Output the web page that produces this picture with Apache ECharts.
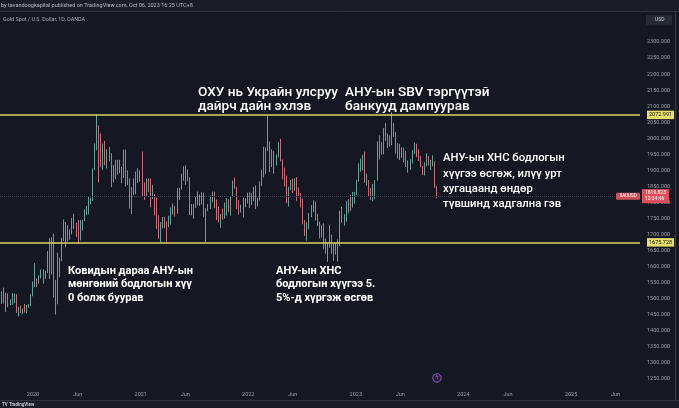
<!DOCTYPE html>
<html><head><meta charset="utf-8">
<script src="https://cdn.jsdelivr.net/npm/echarts@6/dist/echarts.min.js"></script>
<style>html,body{margin:0;padding:0;background:#151822;}#c{width:679px;height:408px;}</style>
</head><body><div id="c"></div>
<script>
// Weekly candles of Gold Spot / USD, [open, close, low, high], weeks starting Mon 16 Sep 2019
const w2019 = [
[1488,1517,1484,1523],[1517,1497,1485,1535],[1497,1505,1459,1519],[1505,1489,1474,1517],
[1489,1490,1480,1498],[1490,1505,1481,1518],[1505,1510,1486,1516],[1510,1459,1456,1514],
[1459,1468,1445,1475],[1468,1462,1456,1478],[1462,1464,1452,1470],[1464,1460,1457,1484],
[1460,1476,1455,1481],[1476,1478,1472,1484],[1478,1511,1477,1514],[1511,1552,1508,1554]];
const w2020 = [
[1552,1562,1536,1611],[1562,1557,1536,1563],[1557,1571,1547,1574],[1571,1589,1563,1591],
[1589,1570,1547,1592],[1570,1584,1562,1586],[1584,1643,1580,1649],[1643,1585,1562,1689],
[1585,1674,1576,1692],[1674,1530,1504,1703],[1530,1499,1451,1559],[1499,1618,1483,1644],
[1618,1620,1567,1628],[1620,1683,1617,1690],[1683,1683,1680,1747],[1683,1726,1660,1739],
[1726,1701,1679,1729],[1701,1702,1684,1716],[1702,1743,1701,1751],[1743,1735,1717,1765],
[1735,1730,1693,1737],[1730,1684,1670,1745],[1684,1731,1682,1745],[1731,1744,1712,1746],
[1744,1771,1742,1779],[1771,1775,1760,1789],[1775,1798,1763,1818],[1798,1810,1795,1815],
[1810,1902,1805,1906],[1902,1975,1901,1984],[1975,2035,1963,2075],[2035,1944,1863,2040],
[1944,1940,1910,2015],[1940,1964,1902,1984],[1964,1934,1916,1992],[1934,1940,1906,1966],
[1940,1950,1928,1973],[1950,1862,1848,1954],[1862,1900,1862,1917],[1900,1930,1873,1933],
[1930,1899,1887,1933],[1899,1902,1891,1933],[1902,1879,1860,1911],[1879,1951,1877,1965],
[1951,1889,1850,1965],[1889,1871,1854,1900],[1871,1788,1781,1875],[1788,1839,1764,1848],
[1839,1839,1823,1875],[1839,1881,1826,1896],[1881,1883,1861,1907],[1883,1898,1865,1900]];
const w2021 = [
[1898,1849,1817,1959],[1849,1828,1808,1863],[1828,1856,1820,1875],[1856,1847,1832,1875],
[1847,1813,1785,1875],[1813,1823,1811,1855],[1823,1784,1760,1826],[1784,1734,1717,1815],
[1734,1700,1687,1760],[1700,1727,1676,1739],[1727,1745,1719,1755],[1745,1733,1720,1755],
[1733,1728,1678,1741],[1728,1744,1723,1759],[1744,1777,1731,1785],[1777,1777,1763,1797],
[1777,1769,1756,1790],[1769,1831,1765,1845],[1831,1843,1808,1846],[1843,1881,1840,1890],
[1881,1905,1868,1913],[1905,1892,1855,1916],[1892,1877,1866,1903],[1877,1764,1761,1878],
[1764,1781,1760,1795],[1781,1784,1750,1795],[1784,1808,1783,1818],[1808,1812,1791,1834],
[1812,1802,1789,1825],[1802,1814,1794,1832],[1814,1763,1755,1831],[1763,1780,1677,1782],
[1780,1781,1773,1795],[1781,1818,1780,1822],[1818,1827,1801,1834],[1827,1788,1782,1834],
[1788,1754,1745,1809],[1754,1750,1738,1787],[1750,1761,1721,1764],[1761,1757,1746,1781],
[1757,1768,1750,1800],[1768,1793,1759,1814],[1793,1783,1770,1810],[1783,1818,1759,1818],
[1818,1864,1816,1868],[1864,1846,1843,1877],[1846,1792,1779,1849],[1792,1783,1762,1808],
[1783,1783,1769,1793],[1783,1798,1753,1815],[1798,1811,1785,1813],[1811,1829,1797,1831]];
const w2022 = [
[1829,1797,1783,1832],[1797,1817,1792,1830],[1817,1836,1804,1848],[1836,1791,1780,1853],
[1791,1808,1788,1815],[1808,1859,1806,1865],[1859,1898,1851,1902],[1898,1889,1878,1974],
[1889,1970,1888,1972],[1970,1988,1960,2070],[1988,1921,1895,1990],[1921,1958,1910,1966],
[1958,1925,1890,1960],[1925,1946,1915,1950],[1946,1975,1941,1988],[1975,1931,1928,1998],
[1931,1896,1872,1934],[1896,1883,1850,1909],[1883,1811,1798,1884],[1811,1846,1787,1849],
[1846,1853,1839,1870],[1853,1851,1829,1874],[1851,1871,1836,1876],[1871,1840,1805,1879],
[1840,1827,1816,1847],[1827,1811,1785,1830],[1811,1742,1732,1812],[1742,1703,1696,1745],
[1703,1727,1681,1739],[1727,1766,1717,1767],[1766,1775,1754,1792],[1775,1802,1770,1807],
[1802,1747,1744,1802],[1747,1737,1727,1765],[1737,1712,1688,1740],[1712,1716,1691,1729],
[1716,1675,1654,1735],[1675,1644,1640,1688],[1644,1660,1615,1675],[1660,1695,1659,1729],
[1695,1644,1640,1700],[1644,1657,1618,1672],[1657,1645,1638,1675],[1645,1681,1616,1685],
[1681,1771,1663,1774],[1771,1751,1737,1786],[1751,1755,1728,1764],[1755,1797,1740,1804],
[1797,1797,1766,1810],[1797,1793,1773,1824],[1793,1798,1784,1833],[1798,1824,1796,1833]];
const w2023 = [
[1824,1866,1823,1870],[1866,1920,1865,1922],[1920,1926,1896,1937],[1926,1928,1900,1949],
[1928,1865,1861,1959],[1865,1865,1853,1890],[1865,1842,1819,1870],[1842,1811,1808,1845],
[1811,1856,1804,1858],[1856,1868,1810,1870],[1868,1989,1868,1990],[1989,1978,1934,2009],
[1978,1969,1949,1988],[1969,2008,1950,2032],[2008,2004,1992,2048],[2004,1983,1970,2015],
[1983,1990,1974,2009],[1990,2017,1978,2081],[2017,2011,2004,2048],[2011,1978,1952,2020],
[1978,1946,1937,1985],[1946,1948,1932,1983],[1948,1961,1939,1972],[1961,1957,1925,1971],
[1957,1920,1910,1960],[1920,1919,1893,1931],[1919,1925,1902,1935],[1925,1955,1922,1963],
[1955,1962,1952,1987],[1962,1959,1942,1983],[1959,1942,1929,1966],[1942,1914,1910,1945],
[1914,1889,1885,1914],[1889,1915,1884,1925],[1915,1940,1913,1953],[1940,1919,1915,1945],
[1919,1924,1901,1933],[1924,1925,1913,1947],[1925,1849,1846,1928],[1849,1820,1813,1852]];

const levelLines = [2072.991, 1675.728];
const lastPrice = 1819.823;
const xTickDates = ['2020-01-01','2020-06-01','2021-01-01','2021-06-01','2022-01-01','2022-06-01',
  '2023-01-01','2023-06-01','2024-01-01','2024-06-01','2025-01-01','2025-06-01'];
const xTickLabels = ['2020','Jun','2021','Jun','2022','Jun','2023','Jun','2024','Jun','2025','Jun'];

const candles = [].concat(w2019, w2020, w2021, w2022, w2023);
function toTs(s){ const p = s.split('-').map(Number); return new Date(p[0], p[1]-1, p[2]).getTime(); }
const tickTs = xTickDates.map(toTs);
const data = candles.map((c, i) => [new Date(2019, 8, 18 + 7 * i).getTime(), c[0], c[1], c[2], c[3]]);

const chart = echarts.init(document.getElementById('c'));
const FONT = 'Roboto';
const baseGraphic = [
    { type: 'rect', shape: { x: 0, y: 0, width: 679, height: 11 }, style: { fill: '#1a1d27' }, z: 1 },
    { type: 'line', shape: { x1: 0, y1: 11.5, x2: 679, y2: 11.5 }, style: { stroke: '#30333e', lineWidth: 1 }, z: 2 },
    { type: 'text', x: 1, y: 5.5, style: { text: 'by tavandoogkapital published on TradingView.com, Oct 06, 2023 16:25 UTC+8',
        fill: '#b5b8c0', fontSize: 5.5, fontFamily: FONT, verticalAlign: 'middle' }, z: 3 },
    { type: 'text', x: 3, y: 20, style: { text: 'Gold Spot / U.S. Dollar, 1D, OANDA',
        fill: '#a5a8b0', fontSize: 5.4, fontFamily: FONT, verticalAlign: 'middle' }, z: 3 },
    { type: 'rect', shape: { x: 646, y: 15, width: 26, height: 10, r: 1.5 }, style: { fill: '#262a35' }, z: 3 },
    { type: 'text', x: 655, y: 20, style: { text: 'USD', fill: '#c9ccd3', fontSize: 5, fontFamily: FONT, verticalAlign: 'middle' }, z: 4 },
    { type: 'line', shape: { x1: 675.5, y1: 11, x2: 675.5, y2: 400 }, style: { stroke: '#3a3d48', lineWidth: 1 }, z: 2 },
    { type: 'rect', shape: { x: 0, y: 400, width: 679, height: 8 }, style: { fill: '#1a1d27' }, z: 1 },
    { type: 'line', shape: { x1: 0, y1: 400.5, x2: 679, y2: 400.5 }, style: { stroke: '#30333e', lineWidth: 1 }, z: 2 },
    { type: 'text', x: 2, y: 405, style: { text: 'TV TradingView', fill: '#c0c3ca', fontSize: 4.5, fontWeight: 'bold', fontFamily: FONT, verticalAlign: 'middle' }, z: 3 },
    { type: 'circle', shape: { cx: 437, cy: 378, r: 4.2 }, style: { fill: '#261d3a', stroke: '#8a5cc4', lineWidth: 1 }, z: 3 },
    { type: 'text', x: 437, y: 378, style: { text: 'ϟ', fill: '#a07ad8', fontSize: 5, align: 'center', verticalAlign: 'middle' }, z: 4 },
    { type: 'text', x: 198, y: 85, style: { text: 'ОХУ нь Украйн улсруу\nдайрч дайн эхлэв', fill: '#ffffff',
        fontSize: 13.6, fontWeight: 500, lineHeight: 14.5, fontFamily: FONT }, z: 10 },
    { type: 'text', x: 345, y: 85, style: { text: 'АНУ-ын SBV тэргүүтэй\nбанкууд дампуурав', fill: '#ffffff',
        fontSize: 13.6, fontWeight: 500, lineHeight: 14.5, fontFamily: FONT }, z: 10 },
    { type: 'text', x: 443, y: 151, style: { text: 'АНУ-ын ХНС бодлогын\nхүүгээ өсгөж, илүү урт\nхугацаанд өндөр\nтүвшинд хадгална гэв',
        fill: '#ffffff', fontSize: 11.3, fontWeight: 500, lineHeight: 15.3, fontFamily: FONT }, z: 10 },
    { type: 'text', x: 68, y: 264, style: { text: 'Ковидын дараа АНУ-ын\nмөнгөний бодлогын хүү\n0 болж буурав',
        fill: '#ffffff', fontSize: 11, fontWeight: 'bold', lineHeight: 13.5, fontFamily: FONT }, z: 10 },
    { type: 'text', x: 276, y: 264, style: { text: 'АНУ-ын ХНС\nбодлогын хүүгээ 5.\n5%-д хүргэж өсгөв',
        fill: '#ffffff', fontSize: 11, fontWeight: 'bold', lineHeight: 13.5, fontFamily: FONT }, z: 10 }
];
const option = {
  backgroundColor: '#151822',
  animation: false,
  grid: { left: 0, right: 39, top: 26, bottom: 29 },
  xAxis: {
    type: 'time',
    min: new Date(2019, 8, 11).getTime(),
    max: new Date(2025, 7, 23).getTime(),
    axisLine: { show: false }, axisTick: { show: false }, splitLine: { show: false },
    axisLabel: { show: false }
  },
  yAxis: {
    type: 'value', position: 'right', min: 1250, max: 2350, interval: 50,
    axisLine: { show: false }, axisTick: { show: false },
    splitLine: { show: false },
    axisLabel: { color: '#9a9da6', fontSize: 5.5, fontFamily: FONT, margin: 7, showMaxLabel: false,
      formatter: v => v.toFixed(3) }
  },
  series: [{
    type: 'candlestick',
    data: data,
    encode: { x: 0, y: [1, 2, 3, 4] },
    barWidth: 1.2,
    itemStyle: { color: '#6a9d95', color0: '#c4707a', borderColor: '#6a9d95', borderColor0: '#c4707a', borderWidth: 1 },
    markLine: {
      silent: true, symbol: ['none', 'none'],
      data: [
        { yAxis: levelLines[0], lineStyle: { color: '#d8d36a', width: 1.6, type: 'solid' },
          label: { show: true, position: 'end', distance: 7, formatter: levelLines[0].toFixed(3),
            backgroundColor: '#e4de6a', color: '#1a1a1a', fontSize: 5.5, fontFamily: FONT, padding: [1.5, 2, 1, 2] } },
        { yAxis: levelLines[1], lineStyle: { color: '#d8d36a', width: 1.6, type: 'solid' },
          label: { show: true, position: 'end', distance: 7, formatter: levelLines[1].toFixed(3),
            backgroundColor: '#e4de6a', color: '#1a1a1a', fontSize: 5.5, fontFamily: FONT, padding: [1.5, 2, 1, 2] } },
        { yAxis: lastPrice, lineStyle: { color: '#3d414d', width: 1, type: 'dotted' },
          label: { show: true, position: 'end', distance: 2, formatter: lastPrice.toFixed(3) + '\n13:34:46',
            backgroundColor: '#d9505c', color: '#ffffff', fontSize: 5, lineHeight: 6, fontFamily: FONT, padding: [1, 3, 1, 3] } }
      ]
    }
  }],
  graphic: baseGraphic
};
chart.setOption(option);
const extra = [];
const py = chart.convertToPixel({ yAxisIndex: 0 }, lastPrice);
extra.push({ type: 'rect', shape: { x: 616, y: py - 3.5, width: 24, height: 7, r: 1 }, style: { fill: '#c8505a' }, z: 5 });
extra.push({ type: 'text', x: 628, y: py, style: { text: 'XAUUSD', fill: '#ffffff', fontSize: 4.5, fontFamily: FONT, align: 'center', verticalAlign: 'middle' }, z: 6 });
tickTs.forEach((t, i) => {
  const px = chart.convertToPixel({ xAxisIndex: 0 }, t);
  extra.push({ type: 'text', x: px, y: 395, style: { text: xTickLabels[i], fill: '#9a9da6', fontSize: 5.5,
    fontFamily: FONT, align: 'center', verticalAlign: 'middle' }, z: 6 });
});
chart.setOption({ graphic: baseGraphic.concat(extra) }, { replaceMerge: ['graphic'] });
</script>
</body></html>
